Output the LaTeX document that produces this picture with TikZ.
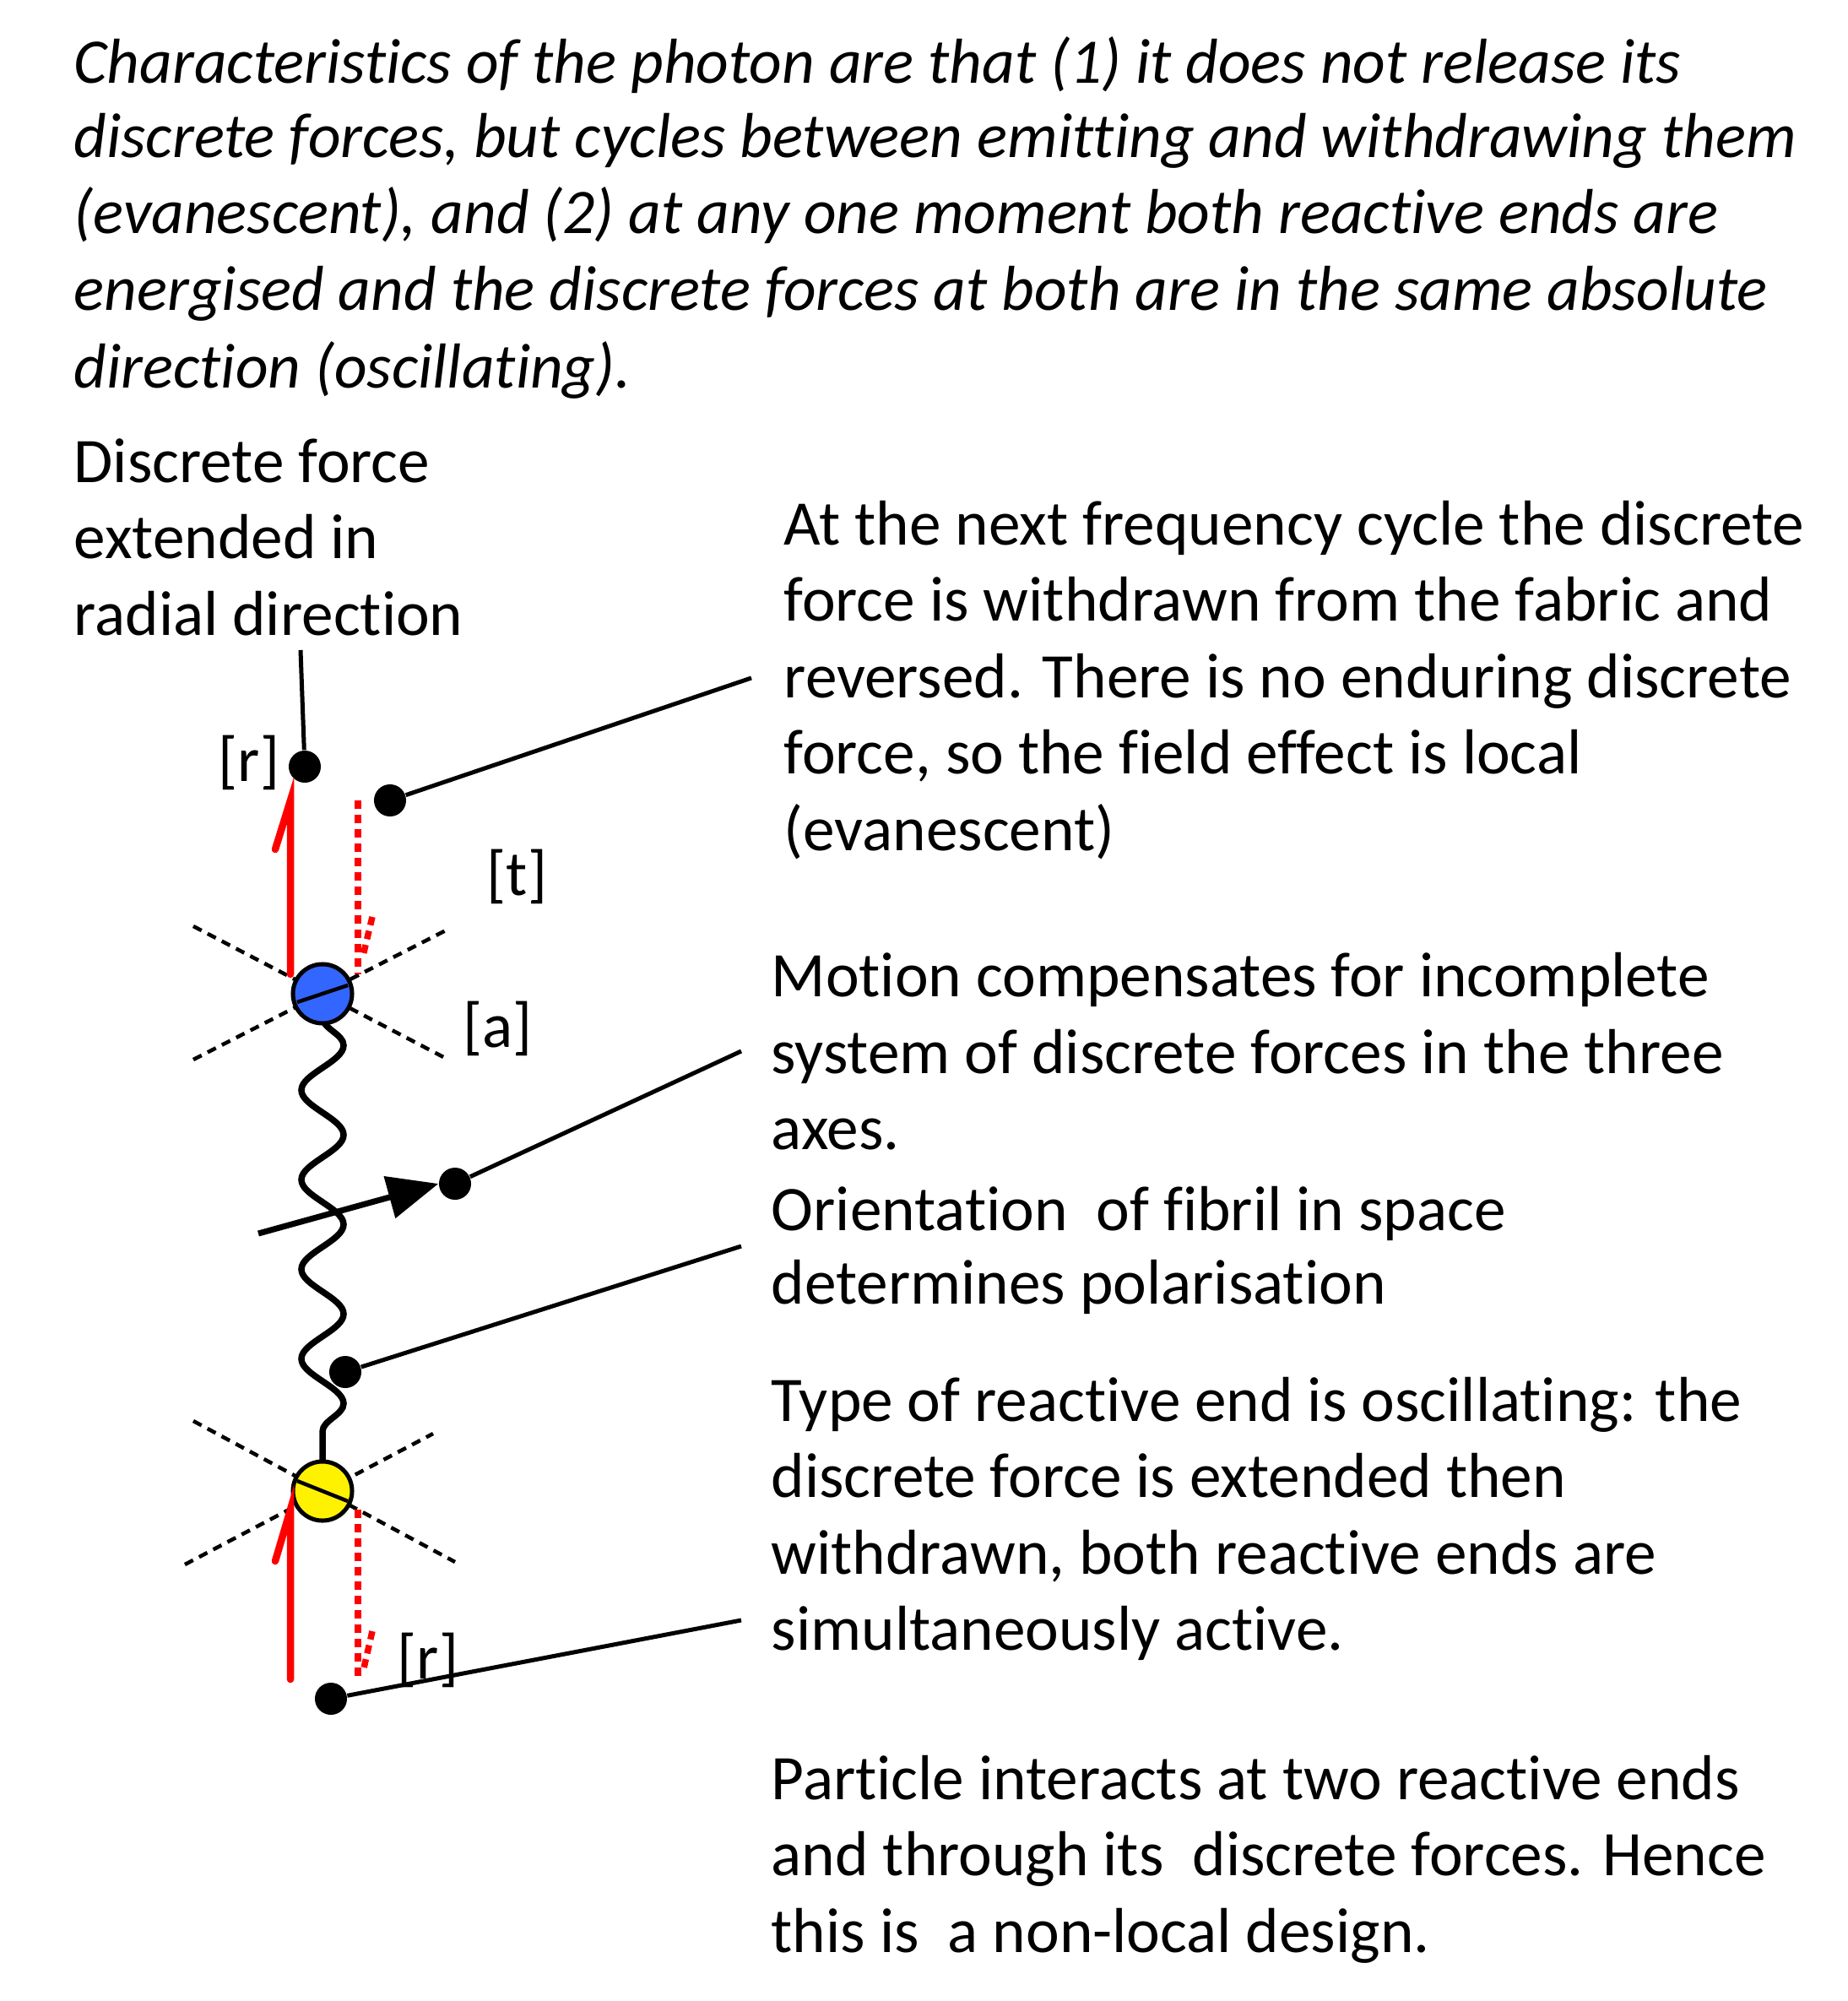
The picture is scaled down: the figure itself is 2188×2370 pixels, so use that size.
\documentclass[tikz,border=0pt]{standalone}
\usepackage{fontspec}
\setmainfont[Ligatures=NoCommon]{Carlito}
\usetikzlibrary{decorations.pathmorphing,arrows.meta}
\begin{document}
\begin{tikzpicture}[x=0.01cm,y=-0.01cm,
  txt/.style={anchor=base west,inner sep=0,font=\fontsize{21.4}{26}\selectfont},
  itx/.style={txt,font=\fontsize{21.4}{26}\selectfont\itshape},
  dot/.style={circle,fill=black,inner sep=0,minimum size=0.38cm},
  lead/.style={line width=0.05cm},
  xdash/.style={line width=0.045cm,dash pattern=on 0.11cm off 0.08cm},
  redsol/.style={red,line width=0.085cm,line cap=round},
  reddot/.style={red,line width=0.075cm,dash pattern=on 0.1cm off 0.07cm},
  ball/.style={circle,draw=black,line width=0.05cm,minimum size=0.7cm,inner sep=0}]
\useasboundingbox (0,0) rectangle (2188,2370);
% top paragraph
\node[itx] (p1) at (87,99) {Characteristics of the photon are that (1) it does not release its};
\node[itx] (p2) at (87,187) {discrete forces, but cycles between emitting and withdrawing them};
\node[itx] (p3) at (87,277) {(evanescent), and (2) at any one moment both reactive ends are};
\node[itx] (p4) at (87,368) {energised and the discrete forces at both are in the same absolute};
\node[itx] (p5) at (87,459) {direction (oscillating).};
% left label
\node[txt] (l1) at (87,571) {Discrete force};
\node[txt] (l2) at (87,661) {extended in};
\node[txt] (l3) at (87,752) {radial direction};
% right blocks
\node[txt] (a1) at (928,645) {At the next frequency cycle the discrete};
\node[txt] (a2) at (928,735) {force is withdrawn from the fabric and};
\node[txt] (a3) at (928,826) {reversed. There is no enduring discrete};
\node[txt] (a4) at (928,916) {force, so the field effect is local};
\node[txt] (a5) at (928,1007) {(evanescent)};
\node[txt] (b1) at (913,1180) {Motion compensates for incomplete};
\node[txt] (b2) at (913,1271) {system of discrete forces in the three};
\node[txt] (b3) at (913,1361) {axes.};
\node[txt] (c1) at (913,1457) {Orientation\ \ of fibril in space};
\node[txt] (c2) at (913,1544) {determines polarisation};
\node[txt] (d1) at (913,1683) {Type of reactive end is oscillating: the};
\node[txt] (d2) at (913,1773) {discrete force is extended then};
\node[txt] (d3) at (913,1864) {withdrawn, both reactive ends are};
\node[txt] (d4) at (913,1954) {simultaneously active.};
\node[txt] (e1) at (913,2131) {Particle interacts at two reactive ends};
\node[txt] (e2) at (913,2221) {and through its\ \ discrete forces. Hence};
\node[txt] (e3) at (913,2312) {this is\ \ a non-local design.};
% small labels
\node[txt] (r1) at (258,925) {[r]};
\node[txt] (tl) at (576,1060) {[t]};
\node[txt] (al) at (548,1240) {[a]};
\node[txt] (r2) at (470,1988) {[r]};
% dashed crosses
\coordinate (ul1) at (229,1097); \coordinate (lr1) at (531,1255);
\coordinate (ll1) at (229,1255); \coordinate (ur1) at (528,1102);
\draw[xdash] (ul1) -- (lr1); \draw[xdash] (ll1) -- (ur1);
\coordinate (ul2) at (229,1683); \coordinate (lr2) at (539,1850);
\coordinate (ll2) at (219,1853); \coordinate (ur2) at (513,1698);
\draw[xdash] (ul2) -- (lr2); \draw[xdash] (ll2) -- (ur2);
% wave
\coordinate (w0) at (382,1205); \coordinate (w1) at (382,1735);
\draw[line width=0.075cm,decorate,decoration={snake,amplitude=0.25cm,segment length=1.06cm}] (w0) -- (w1);
% balls
\node[ball,fill={rgb,255:red,51;green,102;blue,255}] (blue) at (382,1177) {};
\draw[line width=0.045cm] (352,1187) -- (412,1167);
\node[ball,fill=yellow] (yel) at (382,1766) {};
\draw[line width=0.045cm] (352,1754) -- (412,1778);
% dots
\node[dot] (dr1) at (361,908) {};
\node[dot] (dt) at (462,948) {};
\node[dot] (dm) at (539,1402) {};
\node[dot] (df) at (409,1625) {};
\node[dot] (dr2) at (392,2012) {};
\coordinate (lt) at (356,770);
\coordinate (ea) at (890,803);
\coordinate (eb) at (878,1245);
\coordinate (ec) at (878,1476);
\coordinate (ed) at (878,1919);
\draw[lead] (lt) -- (dr1);
\draw[lead] (dt) -- (ea);
\draw[lead] (dm) -- (eb);
\draw[lead] (df) -- (ec);
\draw[lead] (dr2) -- (ed);
% motion arrow
\coordinate (ms) at (306,1461);
\draw[line width=0.07cm,-{Triangle[length=0.6cm,width=0.5cm]}] (ms) -- (dm.west);
% red arrows top
\draw[redsol] (344,1154) -- (344,948) -- (326,1006);
\draw[reddot] (424,948) -- (424,1154);
\draw[reddot] (441,1086) -- (430,1132);
% red arrows bottom
\draw[redsol] (344,1989) -- (344,1788) -- (326,1849);
\draw[reddot] (424,1788) -- (424,1989);
\draw[reddot] (441,1932) -- (430,1980);
\end{tikzpicture}
\end{document}
